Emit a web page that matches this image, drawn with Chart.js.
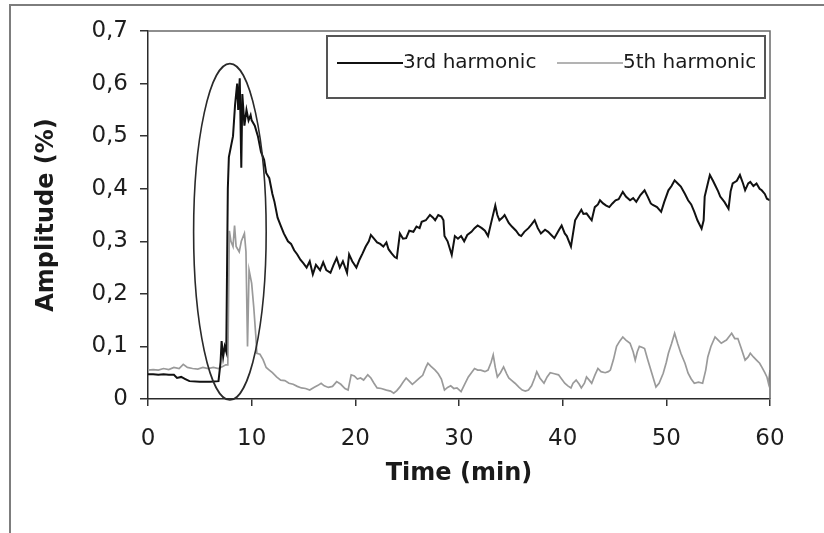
<!DOCTYPE html>
<html>
<head>
<meta charset="utf-8">
<script src="https://cdn.jsdelivr.net/npm/chart.js@4.4.1/dist/chart.umd.min.js"></script>
<style>
  html, body { margin: 0; padding: 0; background: #fff; }
  #wrap { position: relative; width: 824px; height: 533px; overflow: hidden; }
  #frame { position: absolute; left: 9px; top: 4px; width: 900px; height: 600px; border: 2px solid #7d7d7d; }
  #chart { position: absolute; left: 0; top: 0; }
</style>
</head>
<body>
<div id="wrap">
  <div id="frame"></div>
  <canvas id="chart" width="824" height="533"></canvas>
</div>
<script>
// --- data ---
const seriesNames = ['3rd harmonic', '5th harmonic'];

const thirdTime = [0, 0.5, 1, 1.5, 2, 2.5, 2.8, 3.2, 3.6, 4, 5, 6, 6.8, 7, 7.1, 7.25, 7.4, 7.55, 7.7, 7.8, 8, 8.2, 8.4, 8.6, 8.7, 8.85, 9, 9.1, 9.3, 9.5, 9.7, 9.9,
  10, 10.3, 10.6, 10.9, 11.2, 11.4, 11.7, 12, 12.2, 12.5, 12.8, 13.1, 13.5, 13.8, 14.1, 14.4, 14.7, 15, 15.3, 15.6, 15.9, 16.2, 16.6, 16.9, 17.2, 17.6, 17.9,
  18.2, 18.5, 18.8, 19.2, 19.4, 19.7, 20.1, 20.4, 20.7, 21, 21.3, 21.5, 21.8, 22.1, 22.4, 22.7, 23, 23.2, 23.5, 23.8, 24, 24.3, 24.6, 24.9, 25.2, 25.6, 25.9,
  26.2, 26.4, 26.8, 27.2, 27.5, 27.7, 28, 28.3, 28.5, 28.6, 28.9, 29.3, 29.6, 29.9, 30.2, 30.5, 30.8, 31.2, 31.5, 31.8, 32.2, 32.5, 32.8, 33.1, 33.5, 33.7,
  33.9, 34.2, 34.4, 34.8, 35.1, 35.5, 35.8, 36, 36.3, 36.7, 37, 37.3, 37.6, 37.9, 38.3, 38.6, 38.9, 39.2, 39.6, 39.9, 40.2, 40.4, 40.8, 41.2, 41.5, 41.8,
  42, 42.3, 42.6, 42.8, 43.1, 43.4, 43.6, 43.9, 44.2, 44.5, 44.8, 45.1, 45.4, 45.8, 46.1, 46.5, 46.8, 47.1, 47.5, 47.9, 48.2, 48.5, 48.7, 49.1, 49.5, 49.8,
  50.2, 50.5, 50.8, 51.1, 51.4, 51.8, 52.1, 52.4, 52.7, 53, 53.4, 53.6, 53.7, 54, 54.2, 54.5, 54.7, 55, 55.2, 55.6, 56, 56.2, 56.4, 56.8, 57.1, 57.4, 57.6,
  57.9, 58.1, 58.4, 58.7, 59, 59.2, 59.5, 59.7, 60];
const thirdValues = [0.047, 0.047, 0.046, 0.047, 0.046, 0.046, 0.040, 0.042, 0.038, 0.034, 0.033, 0.033, 0.034, 0.07, 0.11, 0.08, 0.10, 0.09, 0.40, 0.46, 0.48, 0.50, 0.56, 0.60, 0.55, 0.61, 0.44, 0.58, 0.52, 0.55, 0.53, 0.54,
  0.53, 0.52, 0.50, 0.47, 0.455, 0.43, 0.42, 0.39, 0.375, 0.345, 0.33, 0.315, 0.30, 0.295, 0.283, 0.275, 0.265, 0.258, 0.25, 0.262, 0.237, 0.255, 0.245, 0.26, 0.245, 0.24, 0.255,
  0.268, 0.25, 0.262, 0.24, 0.275, 0.262, 0.25, 0.265, 0.277, 0.29, 0.30, 0.312, 0.305, 0.298, 0.295, 0.29, 0.298, 0.285, 0.277, 0.27, 0.268, 0.315, 0.305, 0.306, 0.32, 0.318, 0.328,
  0.325, 0.337, 0.34, 0.35, 0.345, 0.34, 0.35, 0.347, 0.34, 0.31, 0.30, 0.274, 0.31, 0.305, 0.31, 0.30, 0.312, 0.318, 0.325, 0.33, 0.325, 0.32, 0.31, 0.335, 0.368, 0.35,
  0.34, 0.345, 0.35, 0.335, 0.328, 0.32, 0.312, 0.31, 0.318, 0.325, 0.332, 0.34, 0.325, 0.315, 0.322, 0.318, 0.312, 0.306, 0.32, 0.33, 0.315, 0.31, 0.29, 0.34, 0.35, 0.36,
  0.352, 0.353, 0.345, 0.34, 0.365, 0.37, 0.378, 0.372, 0.368, 0.365, 0.372, 0.378, 0.38, 0.394, 0.385, 0.378, 0.382, 0.375, 0.388, 0.397, 0.385, 0.372, 0.369, 0.365, 0.356, 0.375,
  0.397, 0.405, 0.416, 0.41, 0.404, 0.39, 0.378, 0.37, 0.356, 0.34, 0.324, 0.34, 0.385, 0.41, 0.426, 0.415, 0.407, 0.395, 0.385, 0.375, 0.362, 0.395, 0.41, 0.415, 0.426, 0.41, 0.397,
  0.41, 0.413, 0.405, 0.41, 0.40, 0.397, 0.39, 0.381, 0.378];

const fifthTime = [0, 0.5, 1, 1.5, 2, 2.5, 3, 3.4, 3.8, 4.3, 4.8, 5.3, 5.8, 6.3, 6.8, 7.2, 7.5, 7.7, 7.85, 8, 8.2, 8.35, 8.5, 8.8, 9, 9.3, 9.45, 9.6, 9.75,
  10, 10.2, 10.4, 10.5, 10.8, 11.1, 11.4, 11.7, 12, 12.4, 12.8, 13.2, 13.6, 14, 14.4, 14.8, 15.2, 15.6, 16, 16.4, 16.7, 17, 17.4, 17.8, 18.2, 18.6, 19, 19.3,
  19.6, 19.9, 20.2, 20.5, 20.8, 21.2, 21.5, 21.8, 22.1, 22.5, 23, 23.4, 23.7, 24, 24.3, 24.6, 24.9, 25.2, 25.5, 25.8, 26.2, 26.5, 26.8, 27, 27.3, 27.7, 28,
  28.3, 28.6, 28.9, 29.2, 29.5, 29.8, 30.2, 30.6, 30.9, 31.2, 31.5, 31.8, 32.1, 32.5, 32.8, 33.1, 33.3, 33.5, 33.7, 34, 34.3, 34.6, 34.8, 35.1, 35.4, 35.8,
  36.1, 36.4, 36.7, 37, 37.3, 37.5, 37.8, 38.2, 38.5, 38.8, 39.2, 39.6, 39.9, 40.2, 40.5, 40.8, 41, 41.3, 41.6, 41.8, 42.1, 42.3, 42.6, 42.8, 43.1, 43.4,
  43.7, 44.1, 44.4, 44.6, 44.9, 45.2, 45.5, 45.8, 46.1, 46.5, 46.8, 47, 47.2, 47.4, 47.7, 47.9, 48.2, 48.6, 49, 49.3, 49.7, 50, 50.2, 50.5, 50.8, 51.1,
  51.4, 51.8, 52.1, 52.4, 52.7, 53.1, 53.5, 53.8, 54, 54.3, 54.7, 55, 55.3, 55.6, 55.8, 56.1, 56.3, 56.6, 56.9, 57.2, 57.6, 57.9, 58.1, 58.4, 58.7, 59,
  59.2, 59.5, 59.7, 59.85, 60];
const fifthValues = [0.055, 0.056, 0.055, 0.058, 0.056, 0.06, 0.058, 0.066, 0.06, 0.058, 0.057, 0.06, 0.058, 0.06, 0.058, 0.062, 0.065, 0.065, 0.32, 0.30, 0.29, 0.33, 0.29, 0.28, 0.30, 0.315, 0.28, 0.10, 0.245,
  0.22, 0.175, 0.12, 0.087, 0.085, 0.075, 0.06, 0.055, 0.05, 0.042, 0.036, 0.035, 0.03, 0.028, 0.024, 0.021, 0.02, 0.017, 0.022, 0.026, 0.03, 0.025, 0.022, 0.024, 0.033, 0.028, 0.02, 0.017,
  0.046, 0.044, 0.038, 0.04, 0.036, 0.046, 0.04, 0.03, 0.021, 0.02, 0.017, 0.015, 0.011, 0.016, 0.023, 0.032, 0.04, 0.034, 0.028, 0.033, 0.04, 0.045, 0.06, 0.068, 0.062, 0.055, 0.048,
  0.038, 0.017, 0.022, 0.025, 0.02, 0.021, 0.014, 0.03, 0.042, 0.05, 0.058, 0.055, 0.055, 0.052, 0.055, 0.07, 0.084, 0.06, 0.042, 0.05, 0.061, 0.048, 0.04, 0.035, 0.03, 0.022,
  0.017, 0.015, 0.017, 0.025, 0.04, 0.052, 0.04, 0.03, 0.042, 0.05, 0.048, 0.046, 0.038, 0.03, 0.025, 0.021, 0.03, 0.036, 0.028, 0.021, 0.03, 0.042, 0.035, 0.03, 0.045, 0.058,
  0.052, 0.05, 0.052, 0.055, 0.075, 0.1, 0.11, 0.118, 0.112, 0.106, 0.09, 0.074, 0.09, 0.1, 0.098, 0.096, 0.075, 0.049, 0.023, 0.03, 0.049, 0.07, 0.087, 0.105, 0.125, 0.105,
  0.087, 0.068, 0.049, 0.038, 0.03, 0.032, 0.03, 0.055, 0.08, 0.1, 0.118, 0.112, 0.106, 0.11, 0.112, 0.12, 0.125, 0.115, 0.115, 0.098, 0.074, 0.08, 0.087, 0.08, 0.074, 0.068,
  0.061, 0.05, 0.042, 0.03, 0.055];

const xTickLabels = ['0', '10', '20', '30', '40', '50', '60'];
const yTickLabels = ['0', '0,1', '0,2', '0,3', '0,4', '0,5', '0,6', '0,7'];

// hand drawn ring around the start-up transient (in data units)
const ringCenter = { t: 7.9, v: 0.318 };
const ringRadius = { t: 3.5, v: 0.32 };

const toPoints = (xs, ys) => xs.map((x, i) => ({ x: x, y: ys[i] }));
const fontFamily = '"DejaVu Sans", sans-serif';

// frame of the plot + legend box + ellipse
const decorations = {
    id: 'decorations',
    afterDatasetsDraw(chart) {
        const { ctx, chartArea: a, scales } = chart;
        ctx.save();

        // ellipse
        const cx = scales.x.getPixelForValue(ringCenter.t);
        const cy = scales.y.getPixelForValue(ringCenter.v);
        const rx = scales.x.getPixelForValue(ringCenter.t + ringRadius.t) - cx;
        const ry = cy - scales.y.getPixelForValue(ringCenter.v + ringRadius.v);
        ctx.beginPath();
        ctx.ellipse(cx, cy, rx, ry, 0, 0, Math.PI * 2);
        ctx.strokeStyle = '#2a2a2a';
        ctx.lineWidth = 1.6;
        ctx.stroke();

        // top and right edges of the plot
        ctx.strokeStyle = '#6a6a6a';
        ctx.lineWidth = 1.5;
        ctx.beginPath();
        ctx.moveTo(a.left, a.top);
        ctx.lineTo(a.right, a.top);
        ctx.lineTo(a.right, a.bottom);
        ctx.stroke();

        // legend
        const lx = a.left + 179, ly = a.top + 5, lw = a.right - 5 - lx, lh = 62;
        ctx.fillStyle = '#fff';
        ctx.fillRect(lx, ly, lw, lh);
        ctx.strokeStyle = '#555';
        ctx.lineWidth = 2;
        ctx.strokeRect(lx, ly, lw, lh);

        const rowY = ly + 27;
        const items = [
            { x: lx + 10, color: '#111', width: 2 },
            { x: lx + 230, color: '#9a9a9a', width: 1.7 }
        ];
        ctx.font = '20px ' + fontFamily;
        ctx.textBaseline = 'middle';
        ctx.textAlign = 'left';
        items.forEach((it, i) => {
            ctx.beginPath();
            ctx.moveTo(it.x, rowY);
            ctx.lineTo(it.x + 66, rowY);
            ctx.strokeStyle = it.color;
            ctx.lineWidth = it.width;
            ctx.stroke();
            ctx.fillStyle = '#1a1a1a';
            ctx.fillText(seriesNames[i], it.x + 66, rowY);
        });
        ctx.restore();
    }
};

const ctx = document.getElementById('chart').getContext('2d');
new Chart(ctx, {
    type: 'line',
    data: {
        datasets: [
            {
                label: seriesNames[0],
                data: toPoints(thirdTime, thirdValues),
                borderColor: '#111',
                borderWidth: 2,
                pointRadius: 0,
                tension: 0,
                fill: false
            },
            {
                label: seriesNames[1],
                data: toPoints(fifthTime, fifthValues),
                borderColor: '#9a9a9a',
                borderWidth: 1.7,
                pointRadius: 0,
                tension: 0,
                fill: false
            }
        ]
    },
    options: {
        responsive: false,
        animation: false,
        devicePixelRatio: 1,
        layout: { padding: { left: 0, right: 54, top: 31, bottom: 0 } },
        plugins: {
            legend: { display: false },
            tooltip: { enabled: false }
        },
        scales: {
            x: {
                type: 'linear',
                min: 0,
                max: 60,
                afterFit: s => { s.height = 134; },
                ticks: {
                    stepSize: 10,
                    color: '#1e1e1e',
                    font: { family: fontFamily, size: 23 },
                    padding: 19,
                    maxRotation: 0,
                    callback: (v, i) => xTickLabels[i]
                },
                grid: { drawOnChartArea: false, drawTicks: true, tickLength: 7, color: '#333', lineWidth: 1.5 },
                border: { color: '#2a2a2a', width: 1.5 },
                title: {
                    display: true,
                    text: 'Time (min)',
                    color: '#1a1a1a',
                    font: { family: fontFamily, size: 24, weight: 'bold' },
                    padding: { top: 0, bottom: 45 }
                }
            },
            y: {
                min: 0,
                max: 0.7,
                afterFit: s => { s.width = 148; },
                ticks: {
                    stepSize: 0.1,
                    color: '#1e1e1e',
                    font: { family: fontFamily, size: 23 },
                    padding: 12,
                    callback: (v, i) => yTickLabels[i]
                },
                grid: { drawOnChartArea: false, drawTicks: true, tickLength: 8, color: '#333', lineWidth: 1.5 },
                border: { color: '#2a2a2a', width: 1.5 },
                title: {
                    display: true,
                    text: 'Amplitude (%)',
                    color: '#1a1a1a',
                    font: { family: fontFamily, size: 24, weight: 'bold' },
                    padding: { top: 32, bottom: 0 }
                }
            }
        }
    },
    plugins: [decorations]
});
</script>
</body>
</html>
